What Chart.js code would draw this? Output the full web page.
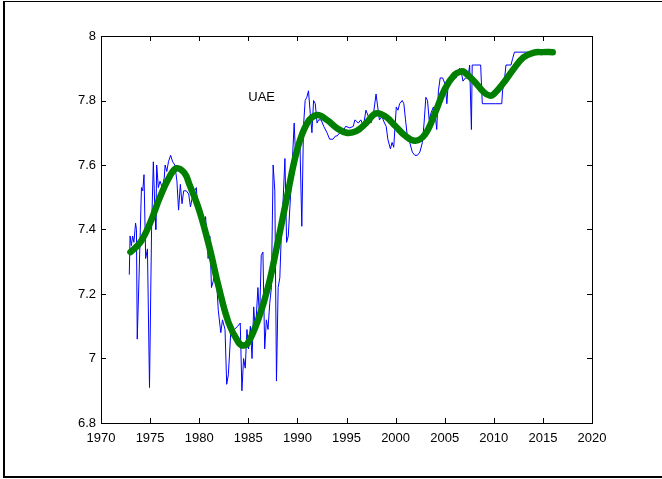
<!DOCTYPE html>
<html>
<head>
<meta charset="utf-8">
<script src="https://cdn.jsdelivr.net/npm/chart.js@4.4.1/dist/chart.umd.min.js"></script>
<style>
  html, body { margin: 0; padding: 0; background: #fff; }
  #wrap { position: relative; width: 662px; height: 479px; }
  #frame { position: absolute; left: 3px; top: 1px; width: 662px; height: 474px; border-left: 2px solid #000; border-top: 1px solid #000; border-bottom: 2px solid #000; box-sizing: content-box; }
  canvas { position: absolute; left: 0; top: 0; }
</style>
</head>
<body>
<div id="wrap">
  <div id="frame"></div>
  <canvas id="c" width="662" height="479"></canvas>
</div>
<script>
// ---- data ----
const blueYears = [1972.88,1972.96,1973.09,1973.22,1973.35,1973.52,1973.61,1973.69,1973.87,1974.12,1974.25,1974.38,1974.55,1974.73,1974.94,1975.15,1975.33,1975.50,1975.58,1975.67,1975.84,1976.01,1976.23,1976.44,1976.53,1976.70,1976.87,1977.09,1977.30,1977.52,1977.73,1977.90,1978.08,1978.25,1978.42,1978.68,1978.93,1979.11,1979.36,1979.71,1979.88,1980.14,1980.40,1980.65,1980.91,1981.08,1981.25,1981.43,1981.68,1981.94,1982.20,1982.37,1982.63,1982.80,1982.97,1983.23,1983.57,1983.92,1984.18,1984.35,1984.52,1984.69,1984.86,1985.03,1985.21,1985.38,1985.55,1985.72,1985.98,1986.15,1986.32,1986.49,1986.67,1986.84,1987.01,1987.18,1987.35,1987.53,1987.70,1987.87,1988.04,1988.21,1988.38,1988.56,1988.73,1988.90,1989.07,1989.33,1989.50,1989.67,1989.85,1990.10,1990.27,1990.45,1990.62,1990.79,1990.96,1991.13,1991.31,1991.48,1991.65,1991.82,1992.00,1992.16,1992.42,1992.68,1993.02,1993.28,1993.63,1993.88,1994.05,1994.31,1994.57,1994.91,1995.34,1995.69,1995.86,1996.20,1996.46,1996.72,1996.98,1997.23,1997.49,1997.75,1998.01,1998.18,1998.35,1998.61,1998.87,1999.04,1999.21,1999.47,1999.64,1999.81,2000.07,2000.24,2000.41,2000.67,2000.84,2001.01,2001.19,2001.44,2001.70,2001.96,2002.22,2002.47,2002.73,2002.90,2003.08,2003.25,2003.42,2003.59,2003.85,2004.02,2004.19,2004.36,2004.54,2004.79,2005.05,2005.22,2005.40,2005.65,2005.91,2006.17,2006.34,2006.51,2006.68,2006.86,2007.11,2007.37,2007.54,2007.72,2007.80,2008.06,2008.49,2008.66,2008.83,2009.52,2010.21,2010.81,2010.89,2011.07,2011.24,2011.75,2011.92,2012.10,2013.82];
const blueValues = [7.26,7.38,7.35,7.38,7.36,7.42,7.40,7.06,7.25,7.53,7.52,7.57,7.31,7.34,6.91,7.40,7.61,7.45,7.40,7.60,7.53,7.55,7.53,7.56,7.60,7.58,7.61,7.63,7.61,7.60,7.55,7.46,7.54,7.48,7.52,7.52,7.51,7.47,7.51,7.53,7.45,7.47,7.40,7.44,7.31,7.38,7.22,7.24,7.29,7.15,7.08,7.12,7.09,6.92,6.95,7.09,7.09,7.10,7.11,6.90,7.00,6.97,7.09,7.03,7.10,7.00,7.16,7.08,7.22,7.12,7.32,7.33,7.03,7.12,7.09,7.17,7.22,7.60,7.52,6.93,7.22,7.25,7.40,7.50,7.62,7.36,7.38,7.52,7.62,7.73,7.60,7.68,7.65,7.41,7.72,7.80,7.81,7.83,7.76,7.70,7.80,7.79,7.73,7.74,7.74,7.72,7.70,7.68,7.68,7.69,7.69,7.70,7.70,7.72,7.715,7.72,7.74,7.73,7.74,7.72,7.77,7.75,7.73,7.76,7.82,7.78,7.74,7.75,7.73,7.72,7.68,7.65,7.67,7.655,7.78,7.77,7.79,7.80,7.79,7.74,7.69,7.67,7.64,7.63,7.63,7.64,7.67,7.73,7.81,7.80,7.74,7.76,7.78,7.76,7.71,7.83,7.87,7.87,7.85,7.79,7.87,7.87,7.87,7.87,7.89,7.90,7.89,7.86,7.87,7.87,7.91,7.71,7.91,7.91,7.91,7.91,7.79,7.79,7.79,7.79,7.83,7.86,7.91,7.91,7.93,7.95,7.95];

const greenYears = [1973,1974,1975,1976,1977,1977.7,1978.5,1979,1980,1981,1982,1983,1984,1984.5,1985,1986,1987,1988,1989,1990,1991,1992,1993,1994,1995,1996,1997,1998,1999,2000,2001,2002,2003,2004,2005,2006,2006.7,2007,2008,2009,2009.6,2010,2011,2012,2013,2014,2015,2016];
const greenValues = [7.33,7.36,7.42,7.50,7.565,7.59,7.575,7.54,7.46,7.35,7.22,7.11,7.05,7.04,7.05,7.12,7.22,7.36,7.51,7.65,7.73,7.755,7.74,7.715,7.70,7.705,7.73,7.76,7.75,7.72,7.69,7.675,7.695,7.76,7.835,7.88,7.89,7.888,7.86,7.825,7.815,7.82,7.855,7.897,7.933,7.948,7.95,7.95];

const xTickValues = [1970,1975,1980,1985,1990,1995,2000,2005,2010,2015,2020];
const xTickLabels = ['1970','1975','1980','1985','1990','1995','2000','2005','2010','2015','2020'];
const yTickValues = [6.8,7.0,7.2,7.4,7.6,7.8,8.0];
const yTickLabels = ['6.8','7','7.2','7.4','7.6','7.8','8'];

const annotationText = 'UAE';
const annotationX = 1985.0;
const annotationY = 7.81;

// ---- chart ----
const FONT = '"Liberation Sans", Arial, Helvetica, sans-serif';
const PLOT_LEFT = 101, PLOT_TOP = 36, PLOT_RIGHT = 592, PLOT_BOTTOM = 423;
const W = 662, H = 479;

const boxPlugin = {
  id: 'matlabBox',
  afterDraw(chart) {
    const ctx = chart.ctx, a = chart.chartArea;
    const xs = chart.scales.x, ys = chart.scales.y;
    ctx.save();
    ctx.strokeStyle = '#000';
    ctx.lineWidth = 1;
    const tl = 5;
    ctx.beginPath();
    xTickValues.forEach(v => {
      const p = Math.round(xs.getPixelForValue(v)) + 0.5;
      ctx.moveTo(p, a.bottom); ctx.lineTo(p, a.bottom - tl);
      ctx.moveTo(p, a.top); ctx.lineTo(p, a.top + tl);
    });
    yTickValues.forEach(v => {
      const p = Math.round(ys.getPixelForValue(v)) + 0.5;
      ctx.moveTo(a.left, p); ctx.lineTo(a.left + tl, p);
      ctx.moveTo(a.right, p); ctx.lineTo(a.right - tl, p);
    });
    ctx.stroke();
    ctx.strokeRect(Math.round(a.left) + 0.5, Math.round(a.top) + 0.5, Math.round(a.right - a.left), Math.round(a.bottom - a.top));
    ctx.fillStyle = '#000';
    ctx.font = '13px ' + FONT;
    ctx.textAlign = 'left';
    ctx.textBaseline = 'middle';
    ctx.fillText(annotationText, xs.getPixelForValue(annotationX), ys.getPixelForValue(annotationY));
    ctx.restore();
  }
};

new Chart(document.getElementById('c'), {
  type: 'line',
  data: {
    datasets: [
      {
        label: 'trend',
        data: greenYears.map((x, i) => ({ x, y: greenValues[i] })),
        borderColor: '#007f00',
        borderWidth: 6.5,
        borderCapStyle: 'round',
        borderJoinStyle: 'round',
        pointRadius: 0,
        tension: 0.4,
        fill: false,
        order: 0
      },
      {
        label: 'UAE',
        data: blueYears.map((x, i) => ({ x, y: blueValues[i] })),
        borderColor: '#0000ff',
        borderWidth: 1,
        pointRadius: 0,
        tension: 0,
        fill: false,
        order: 1
      }
    ]
  },
  options: {
    responsive: false,
    animation: false,
    events: [],
    layout: { padding: { left: 0, top: PLOT_TOP, right: W - PLOT_RIGHT, bottom: 0 } },
    plugins: { legend: { display: false }, tooltip: { enabled: false } },
    scales: {
      x: {
        type: 'linear',
        min: 1970, max: 2020,
        grid: { display: false, drawTicks: false },
        border: { display: false },
        afterBuildTicks: s => { s.ticks = xTickValues.map(v => ({ value: v })); },
        afterFit: s => { s.height = H - PLOT_BOTTOM; },
        ticks: {
          autoSkip: false, maxRotation: 0, padding: 8,
          color: '#000',
          font: { family: FONT, size: 13 },
          callback: (v) => xTickLabels[xTickValues.indexOf(v)]
        }
      },
      y: {
        type: 'linear',
        min: 6.8, max: 8,
        grid: { display: false, drawTicks: false },
        border: { display: false },
        afterBuildTicks: s => { s.ticks = yTickValues.map(v => ({ value: v })); },
        afterFit: s => { s.width = PLOT_LEFT; },
        ticks: {
          autoSkip: false, padding: 5,
          color: '#000',
          font: { family: FONT, size: 13 },
          callback: (v) => {
            const i = yTickValues.findIndex(t => Math.abs(t - v) < 1e-6);
            return i >= 0 ? yTickLabels[i] : '';
          }
        }
      }
    }
  },
  plugins: [boxPlugin]
});
</script>
</body>
</html>
